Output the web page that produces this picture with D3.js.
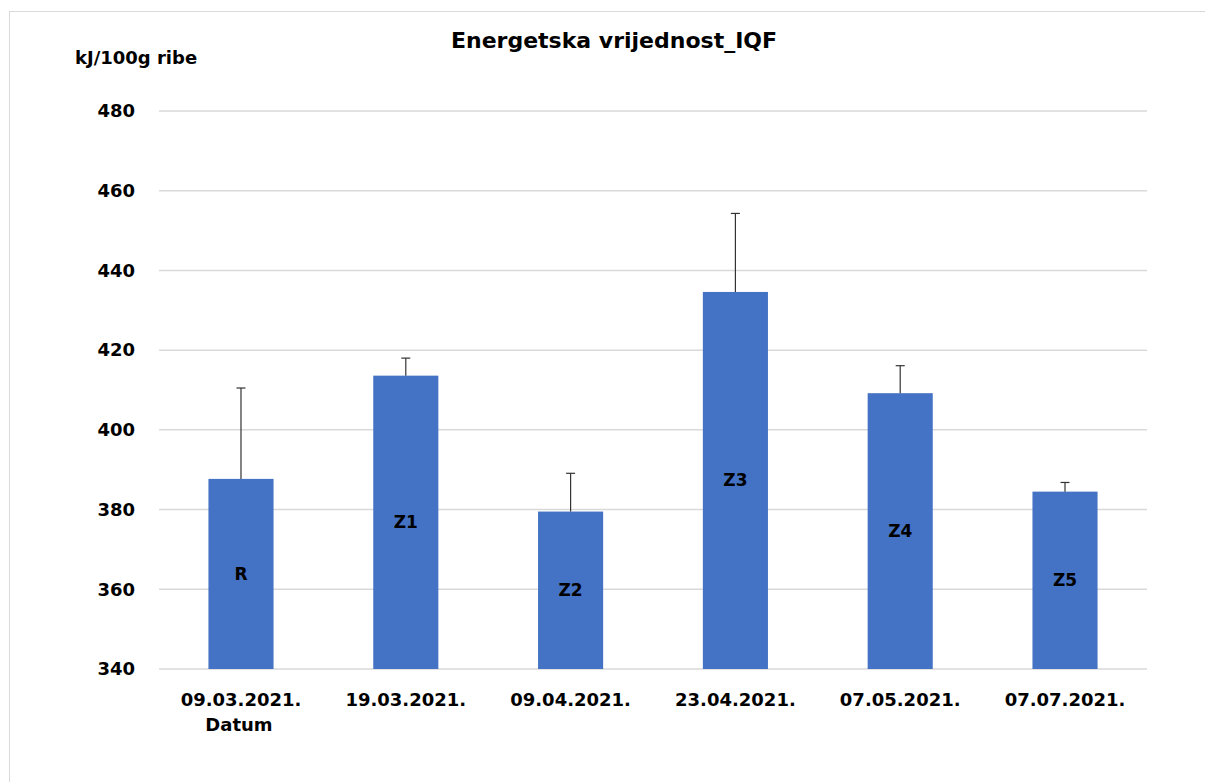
<!DOCTYPE html>
<html>
<head>
<meta charset="utf-8">
<script src="https://cdn.jsdelivr.net/npm/d3@7"></script>
<style>
  body { margin: 0; background: #fff; }
  text { font-family: "DejaVu Sans", "Open Sans", sans-serif; font-weight: 700; fill: #000; }
</style>
</head>
<body>
<div id="chart"></div>
<script>
const dates = ["09.03.2021.", "19.03.2021.", "09.04.2021.", "23.04.2021.", "07.05.2021.", "07.07.2021."];
const labels = ["R", "Z1", "Z2", "Z3", "Z4", "Z5"];
const values = [387.7, 413.6, 379.5, 434.6, 409.2, 384.5];
const errors = [22.8, 4.4, 9.6, 19.7, 6.9, 2.3];
const yTicks = [340, 360, 380, 400, 420, 440, 460, 480];

const W = 1205, H = 782;
const margin = {top: 111, right: 58, bottom: 113, left: 159};
const width = W - margin.left - margin.right;
const height = H - margin.top - margin.bottom;

const svg = d3.select("#chart").append("svg")
    .attr("width", W)
    .attr("height", H);

// chart frame
svg.append("rect")
    .attr("x", 9.5).attr("y", 11.5)
    .attr("width", W).attr("height", H)
    .attr("fill", "none")
    .attr("stroke", "#d9d9d9")
    .attr("stroke-width", 1);

svg.append("text")
    .attr("x", 614).attr("y", 48)
    .attr("text-anchor", "middle")
    .style("font-size", "22px")
    .text("Energetska vrijednost_IQF");

svg.append("text")
    .attr("x", 75).attr("y", 64)
    .style("font-size", "18px")
    .text("kJ/100g ribe");

const g = svg.append("g")
    .attr("transform", `translate(${margin.left},${margin.top})`);

const x = d3.scaleBand()
    .domain(dates)
    .range([0, width])
    .paddingInner(0.605)
    .paddingOuter(0.3);

const y = d3.scaleLinear()
    .domain([340, 480])
    .range([height, 0]);

// gridlines
g.selectAll(".grid")
    .data(yTicks)
    .join("line")
    .attr("x1", 0).attr("x2", width)
    .attr("y1", d => y(d)).attr("y2", d => y(d))
    .attr("stroke", "#d9d9d9")
    .attr("stroke-width", 1.5);

// y tick labels
g.selectAll(".ytick")
    .data(yTicks)
    .join("text")
    .attr("x", -24)
    .attr("y", d => y(d))
    .attr("dy", "0.35em")
    .attr("text-anchor", "end")
    .style("font-size", "18px")
    .text(d => d);

// bars
g.selectAll(".bar")
    .data(values)
    .join("rect")
    .attr("x", (d, i) => x(dates[i]))
    .attr("width", x.bandwidth())
    .attr("y", d => y(d))
    .attr("height", d => y(340) - y(d))
    .attr("fill", "#4472c4");

// error bars (upper only)
const err = g.selectAll(".err")
    .data(values)
    .join("g")
    .attr("transform", (d, i) => `translate(${x(dates[i]) + x.bandwidth() / 2},0)`);
err.append("line")
    .attr("y1", d => y(d))
    .attr("y2", (d, i) => y(d + errors[i]))
    .attr("stroke", "#333")
    .attr("stroke-width", 1.2);
err.append("line")
    .attr("x1", -4.5).attr("x2", 4.5)
    .attr("y1", (d, i) => y(d + errors[i]))
    .attr("y2", (d, i) => y(d + errors[i]))
    .attr("stroke", "#333")
    .attr("stroke-width", 1.2);

// labels inside bars
g.selectAll(".lbl")
    .data(values)
    .join("text")
    .attr("x", (d, i) => x(dates[i]) + x.bandwidth() / 2)
    .attr("y", d => (y(d) + y(340)) / 2)
    .attr("dy", "0.35em")
    .attr("text-anchor", "middle")
    .style("font-size", "17px")
    .text((d, i) => labels[i]);

// x labels
g.selectAll(".xtick")
    .data(dates)
    .join("text")
    .attr("x", d => x(d) + x.bandwidth() / 2)
    .attr("y", height + 37)
    .attr("text-anchor", "middle")
    .style("font-size", "18px")
    .text(d => d);

g.append("text")
    .attr("x", x(dates[0]) + x.bandwidth() / 2 - 2)
    .attr("y", height + 62)
    .attr("text-anchor", "middle")
    .style("font-size", "18px")
    .text("Datum");
</script>
</body>
</html>
